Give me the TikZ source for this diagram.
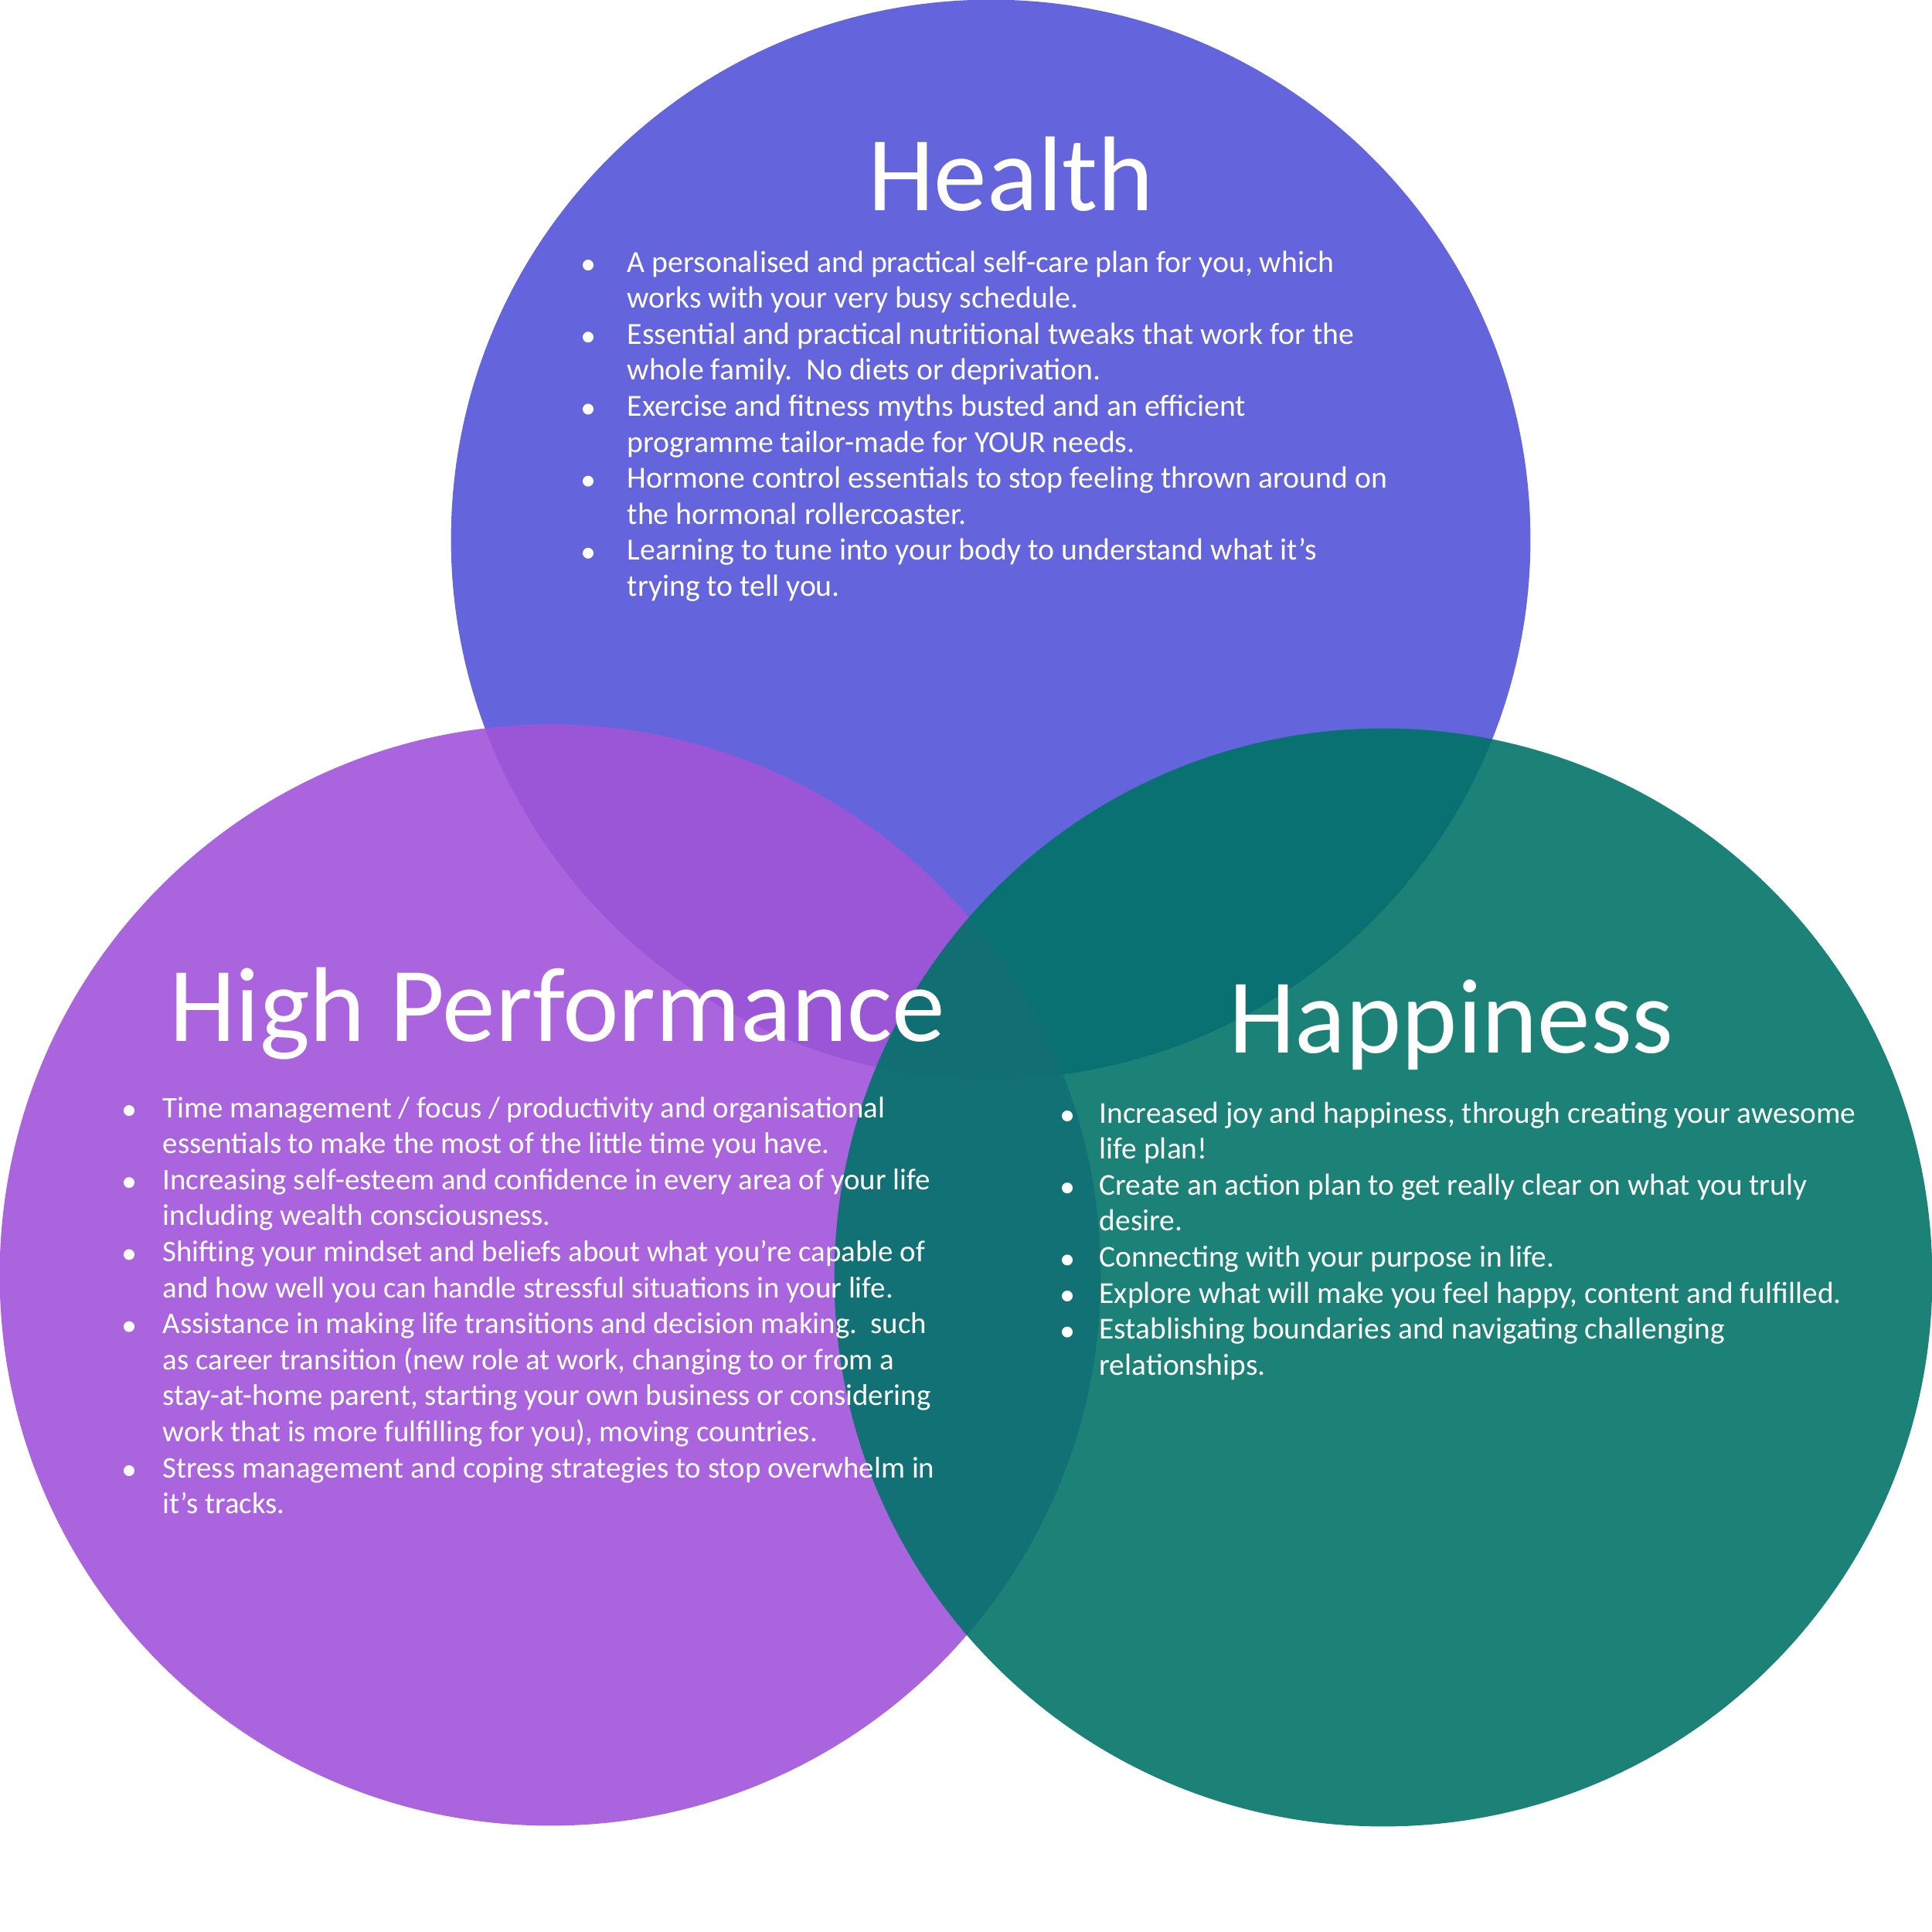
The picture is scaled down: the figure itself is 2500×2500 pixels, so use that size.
\documentclass[tikz,border=0pt]{standalone}
\usepackage{fontspec}
\setmainfont{Carlito}
\definecolor{healthc}{RGB}{100,100,220}
\definecolor{hpc}{RGB}{170,100,222}
\definecolor{hphc}{RGB}{155,85,215}
\definecolor{happyc}{RGB}{0,115,103}
\begin{document}
\begin{tikzpicture}[x=0.01cm,y=-0.01cm,
  txt/.style={text=white, inner sep=0pt, anchor=base west, font=\fontsize{11.3}{13}\selectfont},
  txtp/.style={txt, font=\fontsize{11.05}{13}\selectfont},
  txty/.style={txt, font=\fontsize{11.2}{13}\selectfont},
  ttl/.style={text=white, inner sep=0pt, anchor=base, font=\fontsize{39.1}{46}\selectfont},
  bul/.style={fill=white}]
\useasboundingbox (0,0) rectangle (2500,2500);
\coordinate (hc) at (1282,698);
\coordinate (pc) at (712,1650);
\coordinate (yc) at (1790,1653);
% circles
\fill[healthc] (hc) circle[radius=6.98cm];
\fill[hpc] (pc) circle[radius=7.12cm];
\begin{scope}
  \clip (hc) circle[radius=6.98cm];
  \fill[hphc] (pc) circle[radius=7.12cm];
\end{scope}
\fill[happyc, opacity=0.89] (yc) circle[radius=7.10cm];
% titles
\node[ttl] (tHealth) at (1308,272) {Health};
\node[ttl] (tHP) at (721,1347) {High Performance};
\node[ttl] (tHappy) at (1878,1362) {Happiness};
% Health text
\foreach \t [count=\i from 0] in {
  {A personalised and practical self-care plan for you, which},
  {works with your very busy schedule.},
  {Essential and practical nutritional tweaks that work for the},
  {whole family.\ \ No diets or deprivation.},
  {Exercise and fitness myths busted and an efficient},
  {programme tailor-made for YOUR needs.},
  {Hormone control essentials to stop feeling thrown around on},
  {the hormonal rollercoaster.},
  {Learning to tune into your body to understand what it’s},
  {trying to tell you.}}
  {\node[txt] (h\i) at (811,{352+46.6*\i}) {\t};}
\foreach \i in {0,2,4,6,8}
  \fill[bul] ([shift={(-50,-9)}]h\i.base west) circle[radius=0.07cm];
% High Performance text
\foreach \t [count=\i from 0] in {
  {Time management / focus / productivity and organisational},
  {essentials to make the most of the little time you have.},
  {Increasing self-esteem and confidence in every area of your life},
  {including wealth consciousness.},
  {Shifting your mindset and beliefs about what you’re capable of},
  {and how well you can handle stressful situations in your life.},
  {Assistance in making life transitions and decision making.\ \ such},
  {as career transition (new role at work, changing to or from a},
  {stay-at-home parent, starting your own business or considering},
  {work that is more fulfilling for you), moving countries.},
  {Stress management and coping strategies to stop overwhelm in},
  {it’s tracks.}}
  {\node[txtp] (p\i) at (210,{1446+46.6*\i}) {\t};}
\foreach \i in {0,2,4,6,10}
  \fill[bul] ([shift={(-43,-9)}]p\i.base west) circle[radius=0.07cm];
% Happiness text
\foreach \t [count=\i from 0] in {
  {Increased joy and happiness, through creating your awesome},
  {life plan!},
  {Create an action plan to get really clear on what you truly},
  {desire.},
  {Connecting with your purpose in life.},
  {Explore what will make you feel happy, content and fulfilled.},
  {Establishing boundaries and navigating challenging},
  {relationships.}}
  {\node[txty] (y\i) at (1422,{1453+46.6*\i}) {\t};}
\foreach \i in {0,2,4,5,6}
  \fill[bul] ([shift={(-41,-9)}]y\i.base west) circle[radius=0.07cm];
\end{tikzpicture}
\end{document}
